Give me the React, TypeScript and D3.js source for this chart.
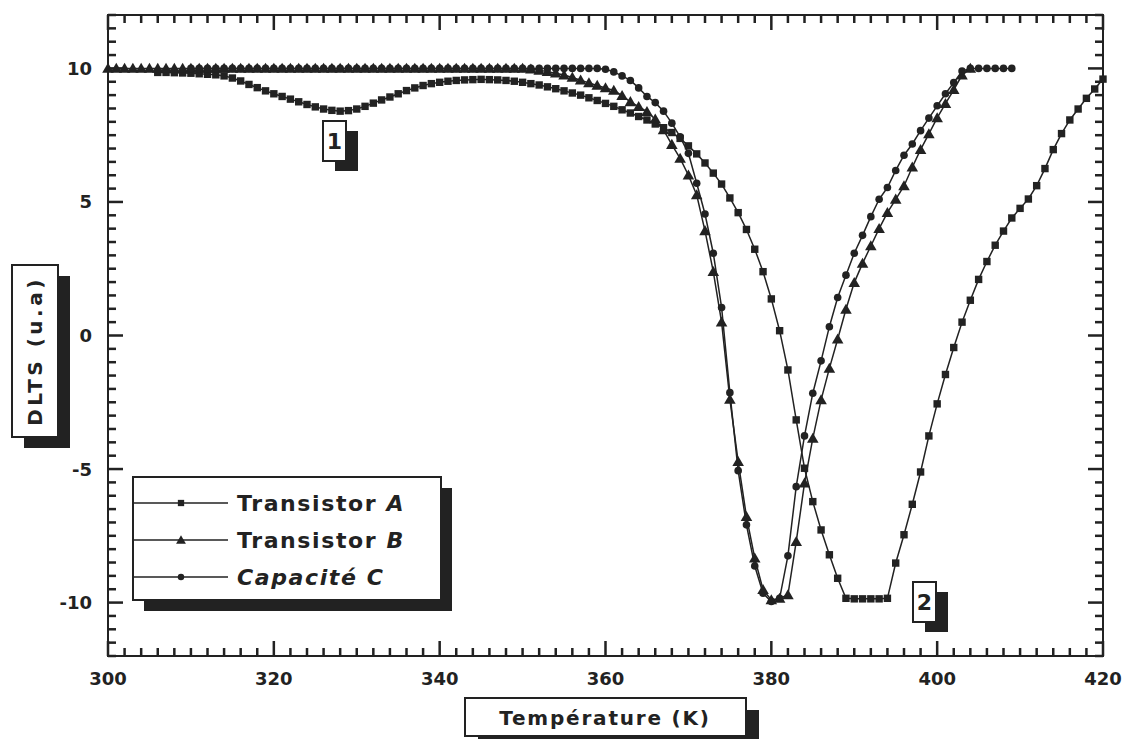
import { useEffect, useRef } from 'react';
import * as d3 from 'd3';

// Transistor A (squares)
const tempsA = [
  306, 307, 308, 309, 310, 311, 312, 313, 314, 315, 316, 317, 318, 319, 320, 321, 322, 323, 324, 325,
  326, 327, 328, 329, 330, 331, 332, 333, 334, 335, 336, 337, 338, 339, 340, 341, 342, 343, 344, 345,
  346, 347, 348, 349, 350, 351, 352, 353, 354, 355, 356, 357, 358, 359, 360, 361, 362, 363, 364, 365,
  366, 367, 368, 369, 370, 371, 372, 373, 374, 375, 376, 377, 378, 379, 380, 381, 382, 383, 384, 385,
  386, 387, 388, 389, 390, 391, 392, 393, 394, 395, 396, 397, 398, 399, 400, 401, 402, 403, 404, 405,
  406, 407, 408, 409, 410, 411, 412, 413, 414, 415, 416, 417, 418, 419, 420,
];
const valuesA = [
  9.85, 9.85, 9.84, 9.83, 9.82, 9.8, 9.78, 9.76, 9.72, 9.64, 9.53, 9.4, 9.28, 9.16, 9.05, 8.95, 8.85, 8.75, 8.65, 8.56,
  8.48, 8.43, 8.4, 8.42, 8.48, 8.58, 8.7, 8.82, 8.93, 9.05, 9.17, 9.27, 9.36, 9.43, 9.48, 9.52, 9.55, 9.57, 9.58, 9.59,
  9.58, 9.57, 9.55, 9.52, 9.48, 9.43, 9.38, 9.31, 9.24, 9.16, 9.08, 9.0, 8.9, 8.8, 8.69, 8.58, 8.45, 8.33, 8.2, 8.07,
  7.92, 7.78, 7.6, 7.38, 7.1, 6.8, 6.46, 6.08, 5.67, 5.15, 4.6, 3.97, 3.23, 2.39, 1.37, 0.18, -1.29, -3.16, -4.97, -6.22,
  -7.28, -8.21, -9.09, -9.84, -9.86, -9.86, -9.86, -9.86, -9.84, -8.52, -7.46, -6.32, -5.11, -3.76, -2.56, -1.46, -0.45, 0.5, 1.32, 2.1,
  2.77, 3.38, 3.91, 4.4, 4.76, 5.11, 5.61, 6.25, 6.96, 7.56, 8.07, 8.48, 8.88, 9.23, 9.6,
];

// Transistor B (triangles)
const tempsB = [
  300, 301, 302, 303, 304, 305, 306, 307, 308, 309, 310, 311, 312, 313, 314, 315, 316, 317, 318, 319,
  320, 321, 322, 323, 324, 325, 326, 327, 328, 329, 330, 331, 332, 333, 334, 335, 336, 337, 338, 339,
  340, 341, 342, 343, 344, 345, 346, 347, 348, 349, 350, 351, 352, 353, 354, 355, 356, 357, 358, 359,
  360, 361, 362, 363, 364, 365, 366, 367, 368, 369, 370, 371, 372, 373, 374, 375, 376, 377, 378, 379,
  380, 381, 382, 383, 384, 385, 386, 387, 388, 389, 390, 391, 392, 393, 394, 395, 396, 397, 398, 399,
  400, 401, 402, 403, 404,
];
const valuesB = [
  10, 10, 10, 10, 10, 10, 10, 10, 10, 10, 10, 10, 10, 10, 10, 10, 10, 10, 10, 10,
  10, 10, 10, 10, 10, 10, 10, 10, 10, 10, 10, 10, 10, 10, 10, 10, 10, 10, 10, 10,
  10, 10, 10, 10, 10, 10, 10, 10, 10, 10, 10, 9.97, 9.93, 9.88, 9.82, 9.75, 9.66, 9.56, 9.46, 9.36,
  9.27, 9.18, 8.98, 8.75, 8.57, 8.38, 8.1, 7.7, 7.15, 6.63, 6.0, 5.26, 3.92, 2.39, 0.5, -2.39, -4.72, -6.78, -8.34, -9.52,
  -9.9, -9.84, -9.71, -7.72, -5.53, -3.85, -2.41, -1.23, -0.14, 0.98, 1.98, 2.7, 3.35, 4.0, 4.6, 5.1, 5.6, 6.3, 6.96, 7.55,
  8.15, 8.68, 9.2, 9.75, 10,
];

// Capacité C (circles)
const tempsC = [
  310, 311, 312, 313, 314, 315, 316, 317, 318, 319, 320, 321, 322, 323, 324, 325, 326, 327, 328, 329,
  330, 331, 332, 333, 334, 335, 336, 337, 338, 339, 340, 341, 342, 343, 344, 345, 346, 347, 348, 349,
  350, 351, 352, 353, 354, 355, 356, 357, 358, 359, 360, 361, 362, 363, 364, 365, 366, 367, 368, 369,
  370, 371, 372, 373, 374, 375, 376, 377, 378, 379, 380, 381, 382, 383, 384, 385, 386, 387, 388, 389,
  390, 391, 392, 393, 394, 395, 396, 397, 398, 399, 400, 401, 402, 403, 404, 405, 406, 407, 408, 409,
];
const valuesC = [
  10, 10, 10, 10, 10, 10, 10, 10, 10, 10, 10, 10, 10, 10, 10, 10, 10, 10, 10, 10,
  10, 10, 10, 10, 10, 10, 10, 10, 10, 10, 10, 10, 10, 10, 10, 10, 10, 10, 10, 10,
  10, 10, 10, 10, 10, 10, 10, 10, 10, 10, 9.97, 9.87, 9.72, 9.55, 9.27, 8.95, 8.72, 8.4, 7.95, 7.44,
  6.82, 5.7, 4.55, 3.08, 1.05, -2.14, -5.06, -7.09, -8.63, -9.65, -9.96, -9.84, -8.25, -5.66, -3.76, -2.16, -0.95, 0.33, 1.42, 2.26,
  3.08, 3.75, 4.45, 5.1, 5.54, 6.18, 6.75, 7.17, 7.67, 8.14, 8.6, 9.05, 9.47, 9.9, 10, 10, 10, 10, 10, 10,
];

const seriesNames = ['Transistor A', 'Transistor B', 'Capacité C'];
const xTickLabels = [300, 320, 340, 360, 380, 400, 420];
const yTickLabels = [-10, -5, 0, 5, 10];

const W = 1127;
const H = 739;
const INK = '#222222';
const FONT = '"DejaVu Sans", Verdana, sans-serif';

const App = () => {
  const chartRef = useRef<SVGSVGElement | null>(null);

  useEffect(() => {
    if (!chartRef.current) return;
    const svg = d3.select(chartRef.current);
    svg.selectAll('*').remove();

    const left = 108, right = 1103, top = 15, bottom = 656;
    const x = d3.scaleLinear().domain([300, 420]).range([left, right]);
    const y = d3.scaleLinear().domain([-12, 12]).range([bottom, top]);

    // ticks on all four sides, pointing inward (minor every 2 K / 0.5 u.a)
    const xTicks = d3.range(300, 421, 2);
    const yTicks = d3.range(-12, 12.01, 0.5);
    const ticks = svg.append('g').attr('fill', INK);
    xTicks.forEach(t => {
      const len = t % 20 === 0 ? 15 : 8;
      ticks.append('rect').attr('x', x(t) - 1.25).attr('y', bottom - len).attr('width', 2.5).attr('height', len);
      ticks.append('rect').attr('x', x(t) - 1.25).attr('y', top).attr('width', 2.5).attr('height', len);
    });
    yTicks.forEach(v => {
      const len = v % 5 === 0 ? 15 : 8;
      ticks.append('rect').attr('x', left).attr('y', y(v) - 1.25).attr('width', len).attr('height', 2.5);
      ticks.append('rect').attr('x', right - len).attr('y', y(v) - 1.25).attr('width', len).attr('height', 2.5);
    });

    // frame
    svg.append('rect').attr('x', left).attr('y', top).attr('width', right - left).attr('height', bottom - top)
      .attr('fill', 'none').attr('stroke', INK).attr('stroke-width', 2);

    // shadowed box helper (labels, legend)
    const shadowBox = (bx: number, by: number, bw: number, bh: number, dx: number, dy: number) => {
      const g = svg.append('g');
      g.append('rect').attr('x', bx + dx).attr('y', by + dy).attr('width', bw).attr('height', bh).attr('fill', INK);
      g.append('rect').attr('x', bx).attr('y', by).attr('width', bw).attr('height', bh)
        .attr('fill', '#fff').attr('stroke', INK).attr('stroke-width', 2);
      return g;
    };

    const labelStyle = (t: d3.Selection<SVGTextElement, unknown, null, undefined>) =>
      t.attr('fill', INK).style('font-family', FONT).style('font-size', '18px').style('font-weight', 'bold');

    xTickLabels.forEach(t => {
      svg.append('text').attr('x', x(t)).attr('y', bottom + 29).attr('text-anchor', 'middle')
        .call(labelStyle).text(String(t));
    });
    yTickLabels.forEach(v => {
      svg.append('text').attr('x', left - 16).attr('y', y(v) + 6.5).attr('text-anchor', 'end')
        .call(labelStyle).text(String(v));
    });

    // series
    const series = [
      { temps: tempsA, values: valuesA, shape: 'square' },
      { temps: tempsB, values: valuesB, shape: 'triangle' },
      { temps: tempsC, values: valuesC, shape: 'circle' },
    ];

    const line = d3.line<[number, number]>().x(d => x(d[0])).y(d => y(d[1]));
    const tri = d3.symbol().type(d3.symbolTriangle).size(58);

    const drawMarker = (g: d3.Selection<SVGGElement, unknown, null, undefined>, shape: string, cx: number, cy: number, s: number) => {
      if (shape === 'square') {
        g.append('rect').attr('x', cx - 3.7 * s).attr('y', cy - 3.7 * s)
          .attr('width', 7.4 * s).attr('height', 7.4 * s).attr('fill', INK);
      } else if (shape === 'triangle') {
        g.append('path').attr('d', tri()).attr('transform', `translate(${cx},${cy + 1}) scale(${s})`).attr('fill', INK);
      } else {
        g.append('circle').attr('cx', cx).attr('cy', cy).attr('r', 3.8 * s).attr('fill', INK);
      }
    };

    series.forEach(s => {
      const pts = s.temps.map((t, i) => [t, s.values[i]] as [number, number]);
      const g = svg.append('g');
      g.append('path').datum(pts).attr('d', line).attr('fill', 'none')
        .attr('stroke', INK).attr('stroke-width', 1.5);
      pts.forEach(p => drawMarker(g, s.shape, x(p[0]), y(p[1]), 1));
    });

    // peak labels
    const peakLabel = (bx: number, by: number, txt: string) => {
      const g = shadowBox(bx, by, 23, 40, 12, 10);
      g.append('text').attr('x', bx + 11.5).attr('y', by + 28).attr('text-anchor', 'middle')
        .attr('fill', INK).style('font-family', FONT).style('font-size', '22px').style('font-weight', 'bold')
        .text(txt);
    };
    peakLabel(323, 121, '1');
    peakLabel(913, 582, '2');

    // legend
    const lg = shadowBox(133, 477, 308, 123, 11, 11);
    seriesNames.forEach((name, i) => {
      const ry = 503 + i * 37;
      lg.append('line').attr('x1', 133).attr('x2', 228).attr('y1', ry).attr('y2', ry)
        .attr('stroke', INK).attr('stroke-width', 1.5);
      const g = lg.append('g');
      drawMarker(g, series[i].shape, 181, ry, 0.85);
      const parts = name.split(' ');
      const t = lg.append('text').attr('x', 237).attr('y', ry + 8).attr('fill', INK)
        .style('font-family', FONT).style('font-size', '22px').style('font-weight', 'bold')
        .style('letter-spacing', '1.6px');
      if (i === 2) {
        t.append('tspan').style('font-style', 'italic').text(name);
      } else {
        t.append('tspan').text(parts[0] + ' ');
        t.append('tspan').style('font-style', 'italic').text(parts[1]);
      }
    });

    // axis titles
    const xt = shadowBox(465, 698, 281, 38, 13, 12);
    xt.append('text').attr('x', 605).attr('y', 725).attr('text-anchor', 'middle').attr('fill', INK)
      .style('font-family', FONT).style('font-size', '20px').style('font-weight', 'bold')
      .style('letter-spacing', '1.8px').text('Température (K)');

    const yt = shadowBox(12, 265, 46, 172, 12, 11);
    yt.append('text').attr('transform', 'translate(42,351) rotate(-90)').attr('text-anchor', 'middle')
      .attr('fill', INK).style('font-family', FONT).style('font-size', '20px').style('font-weight', 'bold')
      .style('letter-spacing', '3.5px').text('DLTS (u.a)');
  }, []);

  return (
    <div>
      <style>{'body{margin:0;background:#fff}'}</style>
      <svg ref={chartRef} width={W} height={H} style={{ display: 'block', background: '#fff' }}></svg>
    </div>
  );
};

export default App;
